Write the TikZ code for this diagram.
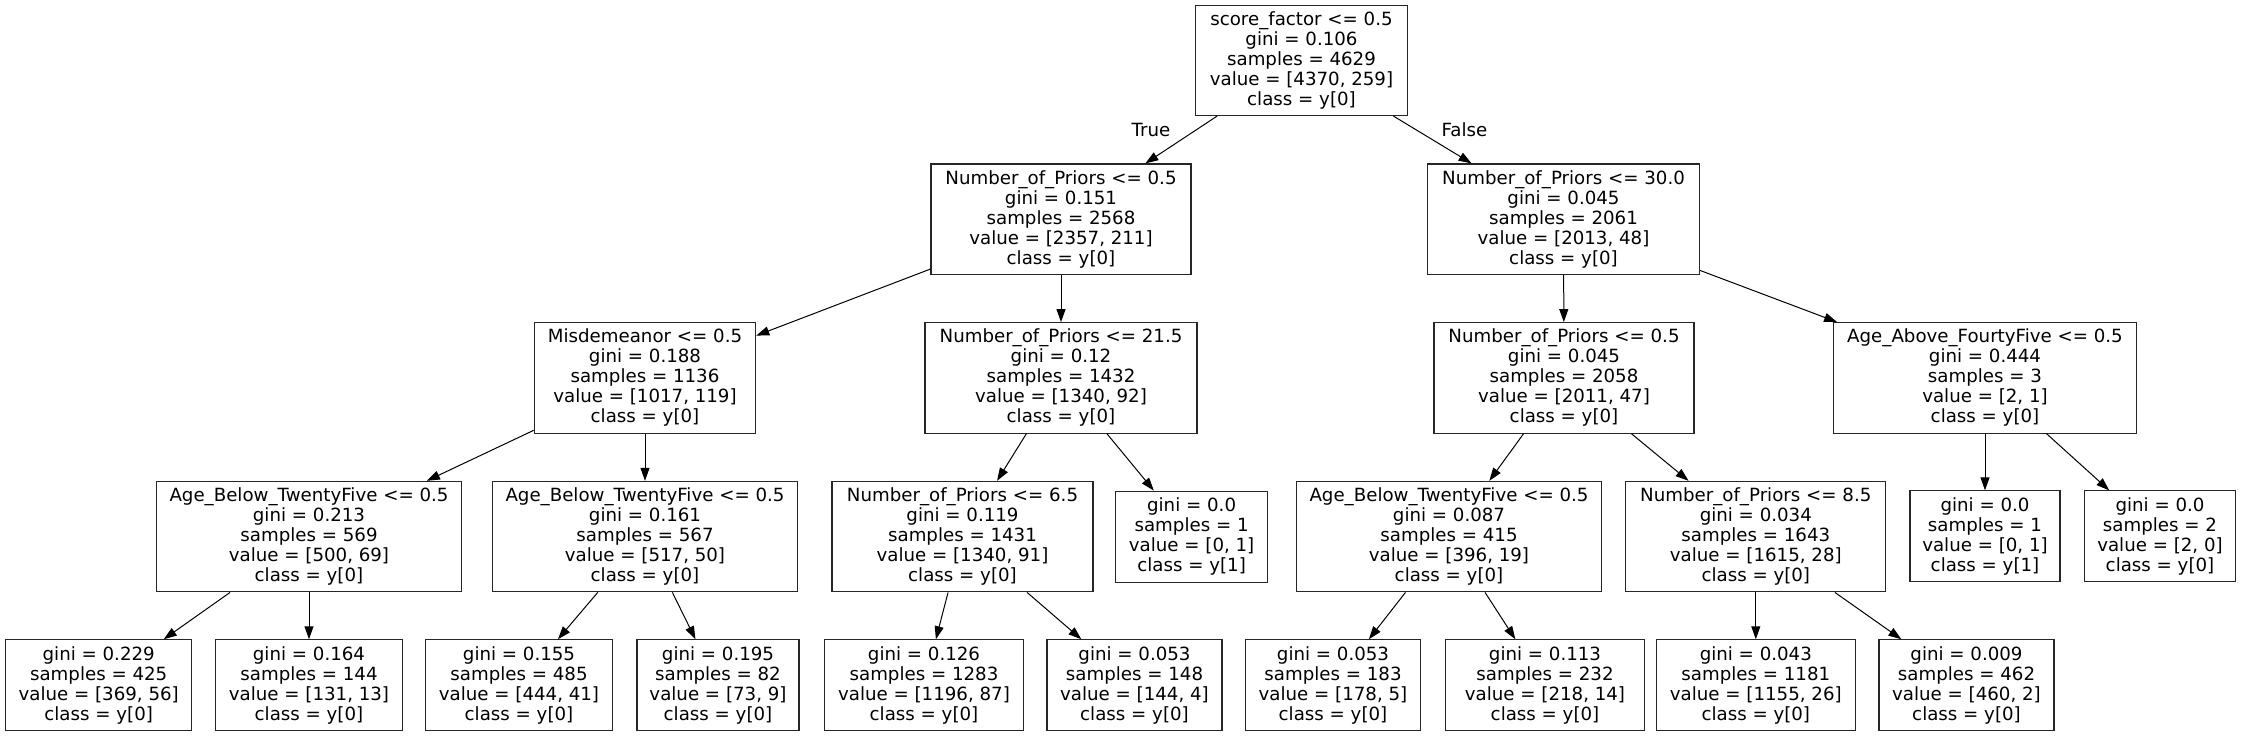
\documentclass[tikz,border=0pt]{standalone}
\usepackage{fontspec}
\setmainfont{DejaVu Sans}
\usetikzlibrary{arrows.meta}
\begin{document}
\begin{tikzpicture}[x=1pt,y=-1pt,
  tbox/.style={draw=black!85, line width=1.1pt, rectangle, inner sep=0pt, align=center,
    font=\fontsize{18.2}{20}\selectfont},
  inode/.style={tbox, minimum height=110.5pt},
  leaf/.style={tbox, minimum height=91pt},
  edge/.style={draw=black, line width=1pt, -{Triangle[length=13pt,width=9pt]}},
  elabel/.style={font=\fontsize{18.2}{20}\selectfont, inner sep=0pt}]
\useasboundingbox (0,0) rectangle (2241,736);
% level 0
\node[inode, minimum width=211.6pt] (root) at (1301.5,60.3) {score\_factor <= 0.5\\gini = 0.106\\samples = 4629\\value = [4370, 259]\\class = y[0]};
% level 1
\node[inode, minimum width=260pt] (n1) at (1061,219.2) {Number\_of\_Priors <= 0.5\\gini = 0.151\\samples = 2568\\value = [2357, 211]\\class = y[0]};
\node[inode, minimum width=272pt] (n2) at (1563.5,219.2) {Number\_of\_Priors <= 30.0\\gini = 0.045\\samples = 2061\\value = [2013, 48]\\class = y[0]};
% level 2
\node[inode, minimum width=221.4pt] (n3) at (645,377.9) {Misdemeanor <= 0.5\\gini = 0.188\\samples = 1136\\value = [1017, 119]\\class = y[0]};
\node[inode, minimum width=272pt] (n4) at (1061,377.9) {Number\_of\_Priors <= 21.5\\gini = 0.12\\samples = 1432\\value = [1340, 92]\\class = y[0]};
\node[inode, minimum width=260pt] (n5) at (1564,377.9) {Number\_of\_Priors <= 0.5\\gini = 0.045\\samples = 2058\\value = [2011, 47]\\class = y[0]};
\node[inode, minimum width=303pt] (n6) at (1985,377.9) {Age\_Above\_FourtyFive <= 0.5\\gini = 0.444\\samples = 3\\value = [2, 1]\\class = y[0]};
% level 3
\node[inode, minimum width=305pt] (n7) at (309,536.6) {Age\_Below\_TwentyFive <= 0.5\\gini = 0.213\\samples = 569\\value = [500, 69]\\class = y[0]};
\node[inode, minimum width=305pt] (n8) at (645,536.6) {Age\_Below\_TwentyFive <= 0.5\\gini = 0.161\\samples = 567\\value = [517, 50]\\class = y[0]};
\node[inode, minimum width=261pt] (n9) at (962.5,536.6) {Number\_of\_Priors <= 6.5\\gini = 0.119\\samples = 1431\\value = [1340, 91]\\class = y[0]};
\node[leaf, minimum width=152pt] (n10) at (1191.6,536.6) {gini = 0.0\\samples = 1\\value = [0, 1]\\class = y[1]};
\node[inode, minimum width=305pt] (n11) at (1449,536.6) {Age\_Below\_TwentyFive <= 0.5\\gini = 0.087\\samples = 415\\value = [396, 19]\\class = y[0]};
\node[inode, minimum width=260pt] (n12) at (1755.8,536.6) {Number\_of\_Priors <= 8.5\\gini = 0.034\\samples = 1643\\value = [1615, 28]\\class = y[0]};
\node[leaf, minimum width=150pt] (n13) at (1985,536.4) {gini = 0.0\\samples = 1\\value = [0, 1]\\class = y[1]};
\node[leaf, minimum width=151pt] (n14) at (2160,536.4) {gini = 0.0\\samples = 2\\value = [2, 0]\\class = y[0]};
% level 4
\node[leaf, minimum width=186pt] (n15) at (98.7,685.3) {gini = 0.229\\samples = 425\\value = [369, 56]\\class = y[0]};
\node[leaf, minimum width=187pt] (n16) at (309,685.3) {gini = 0.164\\samples = 144\\value = [131, 13]\\class = y[0]};
\node[leaf, minimum width=187pt] (n17) at (519,685.3) {gini = 0.155\\samples = 485\\value = [444, 41]\\class = y[0]};
\node[leaf, minimum width=162pt] (n18) at (718,685.3) {gini = 0.195\\samples = 82\\value = [73, 9]\\class = y[0]};
\node[leaf, minimum width=199pt] (n19) at (924,685.3) {gini = 0.126\\samples = 1283\\value = [1196, 87]\\class = y[0]};
\node[leaf, minimum width=175pt] (n20) at (1134.5,685.3) {gini = 0.053\\samples = 148\\value = [144, 4]\\class = y[0]};
\node[leaf, minimum width=175pt] (n21) at (1333,685.3) {gini = 0.053\\samples = 183\\value = [178, 5]\\class = y[0]};
\node[leaf, minimum width=199pt] (n22) at (1545,685.3) {gini = 0.113\\samples = 232\\value = [218, 14]\\class = y[0]};
\node[leaf, minimum width=199pt] (n23) at (1755.8,685.3) {gini = 0.043\\samples = 1181\\value = [1155, 26]\\class = y[0]};
\node[leaf, minimum width=175pt] (n24) at (1966.5,685.3) {gini = 0.009\\samples = 462\\value = [460, 2]\\class = y[0]};
% edge labels
\node[elabel] (ltrue) at (1151,129.5) {True};
\node[elabel] (lfalse) at (1464.5,129.5) {False};
% edges
\draw[edge] (root) -- (n1);
\draw[edge] (root) -- (n2);
\draw[edge] (n1) -- (n3);
\draw[edge] (n1) -- (n4);
\draw[edge] (n3) -- (n7);
\draw[edge] (n3) -- (n8);
\draw[edge] (n7) -- (n15);
\draw[edge] (n7) -- (n16);
\draw[edge] (n8) -- (n17);
\draw[edge] (n8) -- (n18);
\draw[edge] (n4) -- (n9);
\draw[edge] (n4) -- (n10);
\draw[edge] (n9) -- (n19);
\draw[edge] (n9) -- (n20);
\draw[edge] (n2) -- (n5);
\draw[edge] (n2) -- (n6);
\draw[edge] (n5) -- (n11);
\draw[edge] (n5) -- (n12);
\draw[edge] (n11) -- (n21);
\draw[edge] (n11) -- (n22);
\draw[edge] (n12) -- (n23);
\draw[edge] (n12) -- (n24);
\draw[edge] (n6) -- (n13);
\draw[edge] (n6) -- (n14);
\end{tikzpicture}
\end{document}
